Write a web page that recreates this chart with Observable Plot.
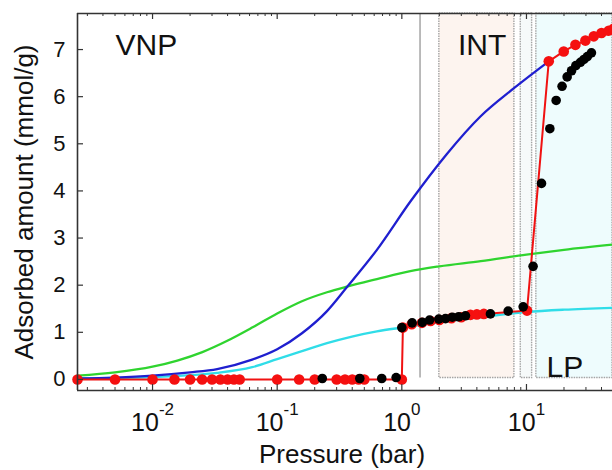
<!DOCTYPE html>
<html><head><meta charset="utf-8">
<script src="https://cdn.jsdelivr.net/npm/d3@7"></script>
<script src="https://cdn.jsdelivr.net/npm/@observablehq/plot@0.6"></script>
<style>html,body{margin:0;padding:0;background:#fff} svg{display:block}</style>
</head><body><div id="chart"></div>
<script>
// ---- axes ----
const xDomain = [0.0025, 49];
const yDomain = [-0.235, 7.765];
const xMajorTicks = [0.01, 0.1, 1, 10];
const xMinorTicks = [0.003,0.004,0.005,0.006,0.007,0.008,0.009,
  0.02,0.03,0.04,0.05,0.06,0.07,0.08,0.09,
  0.2,0.3,0.4,0.5,0.6,0.7,0.8,0.9,
  2,3,4,5,6,7,8,9,20,30,40];
const yTicks = [0,1,2,3,4,5,6,7];
const xLabel = "Pressure (bar)";
const yLabel = "Adsorbed amount (mmol/g)";

// ---- shaded regions ----
const boxX1 = [2, 9, 12];
const boxX2 = [8, 11.1, 49];
const boxFill = ["#fdf4ef", "#f6fafa", "#eefcfd"];
const boxBottom = 0.03;
const lineP = [1.4];

// ---- region labels ----
const regionLabels = ["VNP", "INT", "LP"];
const regionP = [0.00505, 2.82, 14.5];
const regionV = [7.08, 7.08, 0.26];

// ---- curves ----
const blueP = [0.0025,0.005,0.01,0.02,0.033,0.063,0.1,0.158,0.251,0.363,0.631,1.175,2.29,4.27,7.94,15.1];
const blueV = [0.02,0.04,0.08,0.15,0.22,0.42,0.64,0.98,1.45,1.96,2.75,3.78,4.78,5.58,6.18,6.75];
const greenP = [0.0025,0.005,0.01,0.0158,0.0251,0.0398,0.063,0.1,0.158,0.251,0.363,0.631,1.17,2.0,4.3,10,20,49];
const greenV = [0.08,0.15,0.27,0.40,0.58,0.82,1.10,1.40,1.66,1.85,1.97,2.13,2.30,2.40,2.51,2.65,2.75,2.86];
const cyanP = [0.0025,0.005,0.01,0.02,0.033,0.063,0.1,0.158,0.251,0.398,0.631,1.0,2.0,4.0,10,20,49];
const cyanV = [0.02,0.03,0.05,0.09,0.14,0.26,0.43,0.60,0.77,0.91,1.02,1.10,1.21,1.31,1.43,1.48,1.52];

// ---- markers ----
const redP = [0.0025,0.005,0.01,0.015,0.02,0.025,0.03,0.035,0.04,0.045,0.05,
  0.1,0.15,0.2,0.3,0.35,0.4,0.45,0.5,1.0,1.02,1.2,1.45,1.7,2.0,2.5,3.0,3.55,4.0,4.55,10.1,
  15.1,19.9,24.7,29.7,34.7,40.0,45.7,50];
const redV = [0,0,0,0,0,0,0,0,0,0,0,
  0,0,0,0,0,0,0,0,0,1.10,1.17,1.20,1.24,1.26,1.30,1.32,1.37,1.38,1.39,1.46,
  6.75,6.96,7.10,7.19,7.28,7.35,7.40,7.44];
const blackP = [0.23,0.46,0.69,0.9,1.0,1.21,1.46,1.67,1.98,2.24,2.54,2.86,3.24,5.14,7.13,9.41,
  11.3,13.2,15.4,17.3,19.3,21.2,23.0,24.9,27.1,28.9,30.8,33.2];
const blackV = [0.02,0.02,0.02,0.04,1.10,1.20,1.21,1.26,1.28,1.29,1.32,1.33,1.35,1.39,1.45,1.54,
  2.40,4.16,5.32,5.92,6.22,6.42,6.55,6.66,6.73,6.79,6.85,6.93];

const zip = (xs, ys) => xs.map((x, i) => ({x, y: ys[i]}));
const boxes = boxX1.map((x1, i) => ({x1, x2: boxX2[i], fill: boxFill[i]}));
const labels = regionLabels.map((t, i) => ({t, x: regionP[i], y: regionV[i]}));
const axisColor = "#333";

const svg = Plot.plot({
  width: 612, height: 470,
  marginLeft: 77, marginRight: 0, marginTop: 13, marginBottom: 80,
  style: {fontFamily: "'Liberation Sans', Arial, sans-serif", background: "#fff", color: "#111"},
  x: {type: "log", domain: xDomain},
  y: {domain: yDomain},
  marks: [
    Plot.rect(boxes, {x1: "x1", x2: "x2", y1: boxBottom, y2: yDomain[1], fill: d => d.fill,
      stroke: "#a4a4a4", strokeWidth: 1.4, strokeDasharray: "1.5,1"}),
    Plot.ruleX(lineP, {y1: boxBottom, y2: yDomain[1], stroke: "#b4b4b4", strokeWidth: 1.8}),
    Plot.line(zip(greenP, greenV), {x: "x", y: "y", stroke: "#2fd42f", strokeWidth: 2.3, curve: "monotone-x"}),
    Plot.line(zip(cyanP, cyanV), {x: "x", y: "y", stroke: "#30dde8", strokeWidth: 2.3, curve: "monotone-x"}),
    Plot.line(zip(blueP, blueV), {x: "x", y: "y", stroke: "#1f1fcf", strokeWidth: 2.3, curve: "monotone-x"}),
    Plot.line(zip(redP, redV), {x: "x", y: "y", stroke: "#f01212", strokeWidth: 2}),
    Plot.dot(zip(redP, redV), {x: "x", y: "y", r: 5.3, fill: "#f51010"}),
    Plot.dot(zip(blackP, blackV), {x: "x", y: "y", r: 4.8, fill: "#000"}),
    Plot.text(labels, {x: "x", y: "y", text: "t", textAnchor: "start", lineAnchor: "middle", fontSize: 30, fill: "#111"}),
    // frame
    Plot.ruleX([xDomain[0]], {stroke: axisColor, strokeWidth: 1.6}),
    Plot.ruleY([yDomain[0], yDomain[1]], {stroke: axisColor, strokeWidth: 1.6}),
    // inward ticks
    Plot.ruleX(xMajorTicks, {insetTop: 371, stroke: axisColor, strokeWidth: 1.2}),
    Plot.ruleX(xMajorTicks, {insetBottom: 371, stroke: axisColor, strokeWidth: 1.2}),
    Plot.ruleX(xMinorTicks, {insetTop: 374, stroke: axisColor, strokeWidth: 1}),
    Plot.ruleX(xMinorTicks, {insetBottom: 374, stroke: axisColor, strokeWidth: 1}),
    Plot.ruleY(yTicks, {insetRight: 529, stroke: axisColor, strokeWidth: 1.2}),
    Plot.axisX({ticks: xMajorTicks, tickSize: 0, tickPadding: 23, fontSize: 25, label: null,
      tickFormat: d => "10^" + String(Math.round(Math.log10(d)))}),
    Plot.axisY({ticks: yTicks, tickSize: 0, tickPadding: 12, fontSize: 22, label: null}),
    Plot.text([yLabel], {frameAnchor: "left", rotate: -90, dx: -53, fontSize: 26, textAnchor: "middle", lineAnchor: "middle", fill: "#111"}),
    Plot.text([xLabel], {frameAnchor: "bottom", dy: 64.5, dx: -3, fontSize: 26, textAnchor: "middle", lineAnchor: "middle", fill: "#111"})
  ]
});

const NS = "http://www.w3.org/2000/svg";
svg.querySelectorAll("text").forEach(t => {
  const m = /^10\^(.+)$/.exec(t.textContent);
  if (!m) return;
  t.textContent = "10";
  const s = document.createElementNS(NS, "tspan");
  s.setAttribute("dy", "-16");
  s.setAttribute("font-size", "17");
  s.textContent = m[1];
  t.appendChild(s);
});
document.getElementById("chart").appendChild(svg);
</script>
</body></html>
